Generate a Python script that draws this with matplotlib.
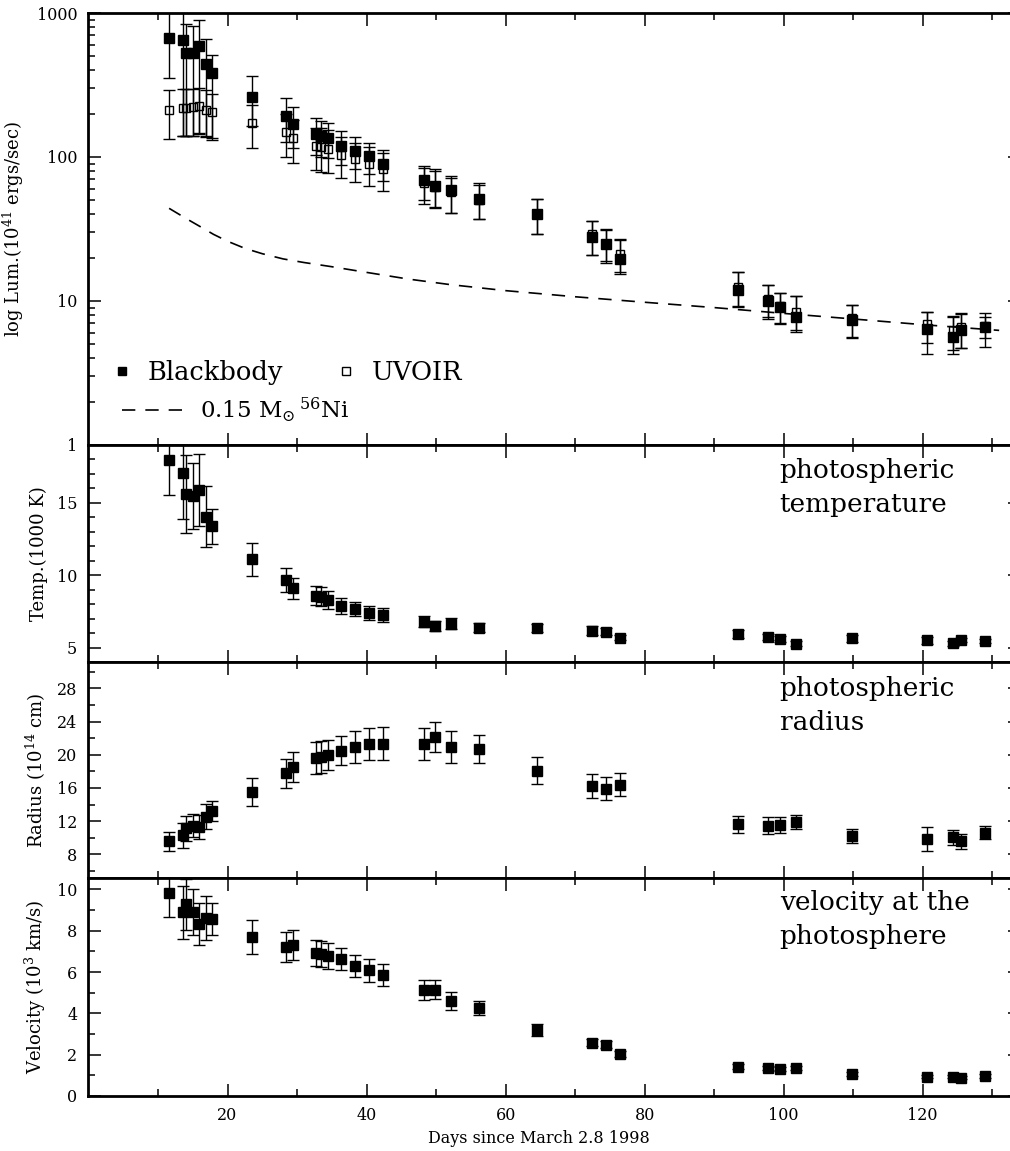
import numpy as np
import matplotlib
matplotlib.use('Agg')
import matplotlib.pyplot as plt
from matplotlib import ticker
from matplotlib.lines import Line2D

plt.rcParams['font.family'] = ['DejaVu Serif']
plt.rcParams['mathtext.fontset'] = 'dejavuserif'

# days since March 2.8 1998
days = [11.6, 13.6, 14.0, 15.0, 15.9, 16.9, 17.8, 23.5, 28.4, 29.4, 32.7, 33.4,
        34.4, 36.3, 38.4, 40.3, 42.4, 48.3, 49.8, 52.2, 56.2, 64.5, 72.5, 74.5,
        76.5, 93.5, 97.7, 99.5, 101.8, 109.8, 120.6, 124.3, 125.5, 128.9]

# blackbody luminosity (1e41 erg/s) with lower / upper ends of the bars
lum_bb = [675, 653, 531, 531, 587, 439, 383, 262, 194, 169, 145, 140,
          135, 120, 110, 101, 90, 69, 63, 59, 51, 40, 28, 25,
          19.7, 11.9, 10.0, 9.1, 7.7, 7.4, 6.35, 5.65, 6.27, 6.6]
lum_bb_lo = [354, 139, 139, 139, 147, 138, 132, 163, 128, 116, 103, 100,
             98, 88, 82, 76, 68, 50, 45, 41, 37, 29, 21, 18.5,
             15.4, 9.1, 7.5, 6.9, 6.1, 5.5, 4.25, 4.3, 4.7, 4.8]
lum_bb_hi = [1300, 1300, 834, 813, 889, 661, 508, 363, 258, 221, 187, 178,
             172, 151, 138, 126, 112, 87, 82, 74, 66, 51, 36, 31.4,
             26.7, 15.8, 13.0, 11.4, 10.8, 9.4, 8.4, 7.7, 8.2, 8.2]

# UVOIR luminosity
lum_uv = [213, 220, 220, 222, 225, 213, 204, 172, 148, 135, 119, 117,
          114, 103, 97, 90, 82, 66, 62, 57, 50, 40, 29, 25,
          21.3, 12.5, 10.4, 9.3, 8.4, 7.6, 6.97, 6.27, 6.6, 6.7]
lum_uv_lo = [133, 140, 140, 140, 145, 140, 135, 116, 100, 91, 81, 79,
             77, 71.5, 66.6, 62.7, 58, 47, 44, 41, 37, 29, 21, 19,
             16, 9.3, 7.7, 7.0, 6.3, 5.6, 5.14, 4.55, 4.74, 5.57]
lum_uv_hi = [292, 298, 298, 298, 301, 290, 274, 228, 200, 180, 160, 158,
             154, 138, 126, 118, 106, 84, 80, 72, 64, 51, 36, 31,
             27, 15.8, 13.0, 11.4, 10.8, 9.4, 8.4, 7.9, 8.1, 7.8]

# 0.15 Msun 56Ni decay curve
ni_days = [11.6, 14, 16, 18, 20, 22.5, 25, 28, 31, 35, 40, 46, 52, 60, 70,
           80, 90, 100, 110, 120, 131]
ni_lum = [44, 37.5, 33, 29, 26, 23.2, 21.3, 19.6, 18.5, 17.3, 15.8, 14.2,
          13.0, 11.8, 10.7, 9.8, 9.0, 8.2, 7.5, 6.85, 6.25]

temp = [17.98, 17.08, 15.63, 15.46, 15.9, 14.04, 13.37, 11.09, 9.68, 9.1, 8.58, 8.51,
        8.3, 7.88, 7.68, 7.4, 7.26, 6.8, 6.52, 6.66, 6.38, 6.36, 6.18, 6.09,
        5.69, 5.95, 5.74, 5.6, 5.28, 5.64, 5.5, 5.3, 5.53, 5.44]
temp_err = [2.45, 3.2, 2.7, 2.3, 2.5, 2.1, 1.2, 1.14, 0.83, 0.72, 0.66, 0.65,
            0.6, 0.55, 0.5, 0.48, 0.46, 0.4, 0.35, 0.35, 0.33, 0.3, 0.28, 0.25,
            0.2, 0.28, 0.22, 0.2, 0.15, 0.25, 0.22, 0.18, 0.15, 0.15]

radius = [9.57, 10.29, 11.14, 11.46, 11.3, 12.54, 13.23, 15.49, 17.78, 18.54, 19.59, 19.75,
          19.96, 20.51, 20.92, 21.32, 21.36, 21.32, 22.13, 20.96, 20.68, 18.1, 16.25, 15.93,
          16.41, 11.62, 11.46, 11.54, 11.9, 10.21, 9.85, 10.05, 9.6, 10.61]
radius_err = [1.13, 1.5, 1.5, 1.4, 1.4, 1.5, 1.25, 1.7, 1.75, 1.8, 1.9, 1.9,
              1.8, 1.7, 1.9, 1.95, 1.95, 1.9, 1.8, 1.9, 1.7, 1.6, 1.4, 1.4,
              1.4, 1.0, 1.0, 1.0, 0.9, 0.9, 1.4, 0.9, 0.9, 0.8]

vel = [9.83, 8.89, 9.27, 8.9, 8.32, 8.61, 8.55, 7.71, 7.19, 7.3, 6.92, 6.87,
       6.77, 6.63, 6.29, 6.09, 5.85, 5.12, 5.14, 4.6, 4.25, 3.18, 2.58, 2.49,
       2.04, 1.42, 1.37, 1.32, 1.37, 1.05, 0.94, 0.94, 0.89, 0.97]
vel_err = [1.15, 1.28, 1.25, 1.1, 1.03, 1.08, 0.78, 0.82, 0.73, 0.71, 0.65, 0.65,
           0.61, 0.52, 0.55, 0.56, 0.52, 0.47, 0.47, 0.42, 0.35, 0.28, 0.18, 0.18,
           0.15, 0.12, 0.1, 0.1, 0.1, 0.1, 0.08, 0.08, 0.08, 0.1]

day_ticks = [20, 40, 60, 80, 100, 120]

fig = plt.figure(figsize=(10.1, 11.51), dpi=100)
left, width = 0.0876, 0.9223
ax1 = fig.add_axes([left, 0.6134, width, 0.3753])
ax2 = fig.add_axes([left, 0.4248, width, 0.1886], sharex=ax1)
ax3 = fig.add_axes([left, 0.2372, width, 0.1877], sharex=ax1)
ax4 = fig.add_axes([left, 0.0478, width, 0.1894], sharex=ax1)

ebkw = dict(fmt='none', ecolor='k', elinewidth=1.0, capsize=4, capthick=1.0)

# luminosity panel
uv = np.array(lum_uv)
ax1.errorbar(days, uv, yerr=[uv - np.array(lum_uv_lo), np.array(lum_uv_hi) - uv], **ebkw)
ax1.plot(days, uv, 's', mfc='none', mec='k', ms=5.5, mew=1.0)
bb = np.array(lum_bb)
ax1.errorbar(days, bb, yerr=[bb - np.array(lum_bb_lo), np.array(lum_bb_hi) - bb], **ebkw)
ax1.plot(days, bb, 's', color='k', ms=7)
ax1.plot(ni_days, ni_lum, color='k', lw=1.2, ls=(0, (8, 6)))
ax1.set_yscale('log')
ax1.set_ylim(1, 1000)
ax1.yaxis.set_major_formatter(ticker.FuncFormatter(lambda v, p: '%g' % v))
ax1.yaxis.set_minor_formatter(ticker.NullFormatter())
ax1.set_ylabel('log Lum.(10$^{41}$ ergs/sec)', fontsize=13)
ax1.yaxis.set_label_coords(-0.067, 0.5)

bb_h = Line2D([], [], marker='s', ls='none', color='k', ms=5.2)
uv_h = Line2D([], [], marker='s', ls='none', mfc='none', mec='k', ms=5.2, mew=1.0)
leg1 = ax1.legend([bb_h, uv_h], ['Blackbody', 'UVOIR'], ncol=2, loc='center left',
                  bbox_to_anchor=(0.0285, 0.167), frameon=False, fontsize=18.5,
                  handlelength=0.55, handletextpad=0.7, columnspacing=2.2,
                  borderpad=0, borderaxespad=0)
ax1.add_artist(leg1)
ni_h = Line2D([], [], ls=(0, (8, 6)), color='k', lw=1.2)
ax1.legend([ni_h], [r'0.15 M$_{\odot}$$\,^{56}$Ni'], loc='center left',
           bbox_to_anchor=(0.036, 0.081), frameon=False, fontsize=16.5,
           handlelength=2.8, handletextpad=0.6, borderpad=0, borderaxespad=0)

# temperature
ax2.errorbar(days, temp, yerr=temp_err, **ebkw)
ax2.plot(days, temp, 's', color='k', ms=7)
ax2.set_ylim(4, 19)
ax2.yaxis.set_major_locator(ticker.FixedLocator([5, 10, 15]))
ax2.yaxis.set_minor_locator(ticker.MultipleLocator(1))
ax2.set_ylabel('Temp.(1000 K)', fontsize=13)
ax2.text(0.742, 0.94, 'photospheric\ntemperature', transform=ax2.transAxes,
         fontsize=19, va='top', ha='left', linespacing=1.45)

# radius
ax3.errorbar(days, radius, yerr=radius_err, **ebkw)
ax3.plot(days, radius, 's', color='k', ms=7)
ax3.set_ylim(5.15, 31.2)
ax3.yaxis.set_major_locator(ticker.MultipleLocator(4))
ax3.yaxis.set_minor_locator(ticker.MultipleLocator(2))
ax3.set_ylabel('Radius (10$^{14}$ cm)', fontsize=13)
ax3.text(0.742, 0.935, 'photospheric\nradius', transform=ax3.transAxes,
         fontsize=19, va='top', ha='left', linespacing=1.45)

# velocity
ax4.errorbar(days, vel, yerr=vel_err, **ebkw)
ax4.plot(days, vel, 's', color='k', ms=7)
ax4.set_ylim(0, 10.55)
ax4.yaxis.set_major_locator(ticker.MultipleLocator(2))
ax4.yaxis.set_minor_locator(ticker.MultipleLocator(1))
ax4.set_ylabel('Velocity (10$^{3}$ km/s)', fontsize=13)
ax4.text(0.742, 0.945, 'velocity at the\nphotosphere', transform=ax4.transAxes,
         fontsize=19, va='top', ha='left', linespacing=1.45)

ax4.set_xlim(0, 134)
ax4.xaxis.set_major_locator(ticker.FixedLocator(day_ticks))
ax4.xaxis.set_minor_locator(ticker.FixedLocator([10, 30, 50, 70, 90, 110, 130]))
ax4.set_xlabel('Days since March 2.8 1998', fontsize=11.5)
ax4.xaxis.set_label_coords(0.4837, -0.155)

for ax in [ax1, ax2, ax3, ax4]:
    for s in ax.spines.values():
        s.set_linewidth(2.0)
    ax.tick_params(which='both', direction='in', top=True, right=True,
                   width=1.1, labelsize=11.5, pad=8)
    ax.tick_params(which='major', length=9)
    ax.tick_params(which='minor', length=5)
for ax in [ax2, ax3, ax4]:
    ax.yaxis.set_label_coords(-0.0435, 0.5)
for ax in [ax1, ax2, ax3]:
    ax.tick_params(labelbottom=False)

fig.savefig('out.png', dpi=100)
